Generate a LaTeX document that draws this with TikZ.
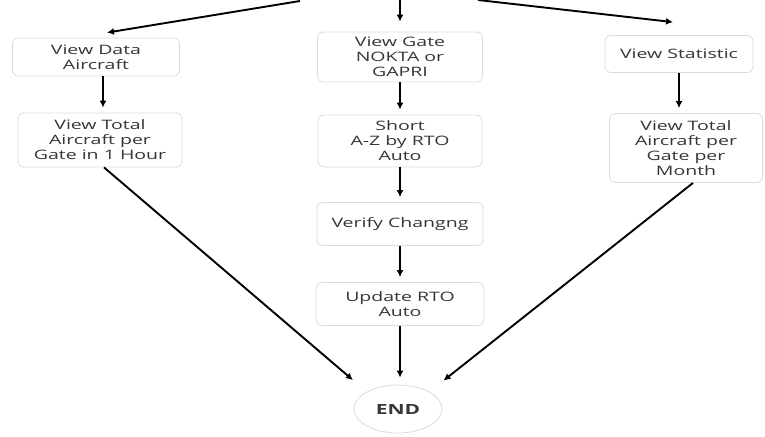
\documentclass[tikz,border=0pt]{standalone}
\usepackage{fontspec}
\setmainfont{Open Sans}[FakeStretch=1.5]
\usetikzlibrary{arrows.meta,calc,shapes.geometric}
\definecolor{boxgray}{HTML}{DCDCD2}
\definecolor{txtgray}{HTML}{363636}

\begin{document}
\begin{tikzpicture}[x=1pt,y=-1pt,>={Latex[length=7pt,width=7pt]},
    box/.style={draw=boxgray,line width=0.8pt,rounded corners=6pt,fill=white,text=txtgray,align=center,inner sep=1pt,font=\fontsize{13}{15}\selectfont},
    flow/.style={->,line width=2.4pt},
    slant/.style={->,line width=1.9pt}]
    \useasboundingbox (0,0) rectangle (765,436);
    \node[box,minimum width=167,minimum height=38] (data) at (96,57) {View Data\\Aircraft};
    \node[box,minimum width=164,minimum height=54] (total1) at (100,140) {View Total\\Aircraft per\\Gate in 1 Hour};
    \node[box,minimum width=165,minimum height=50] (gate) at (400,57) {View Gate\\NOKTA or\\GAPRI};
    \node[box,minimum width=164,minimum height=52] (short) at (400,141) {Short\\A-Z by RTO\\Auto};
    \node[box,minimum width=166,minimum height=43] (verify) at (400,224) {Verify Changng};
    \node[box,minimum width=168,minimum height=43] (update) at (400,304) {Update RTO\\Auto};
    \node[box,minimum width=148,minimum height=37] (stat) at (679,54) {View Statistic};
    \node[box,minimum width=153,minimum height=69] (total3) at (686,148) {View Total\\Aircraft per\\Gate per\\Month};
    \node[box,ellipse,minimum width=88,minimum height=48,font=\bfseries\fontsize{14}{15}\selectfont] (finish) at (398,409) {END};
    \coordinate (topL) at (300,1);
    \coordinate (topC) at (400,0);
    \coordinate (topR) at (478,0);
    \draw[slant] (topL)--($(data.north)+(11,-5)$);
    \draw[flow,shorten >=10pt] (topC)--(gate.north);
    \draw[slant] (topR)--($(stat.north)+(-6,-13)$);
    \draw[flow,shorten >=5pt] ([xshift=7pt]data.south)--([xshift=3pt]total1.north);
    \draw[flow,shorten >=5pt] (stat.south)--(stat.south|-total3.north);
    \foreach \a/\b in {gate/short,short/verify,verify/update}
    {
        \draw[flow,shorten >=5pt] (\a)--(\b);
    }
    \draw[flow,shorten >=7pt] (update.south)--(update.south|-finish.north);
    \draw[slant,shorten >=18pt] ([xshift=4pt]total1.south)--(finish.north west);
    \draw[slant,shorten >=18pt] ([xshift=7pt]total3.south)--(finish.north east);
\end{tikzpicture}
\end{document}
